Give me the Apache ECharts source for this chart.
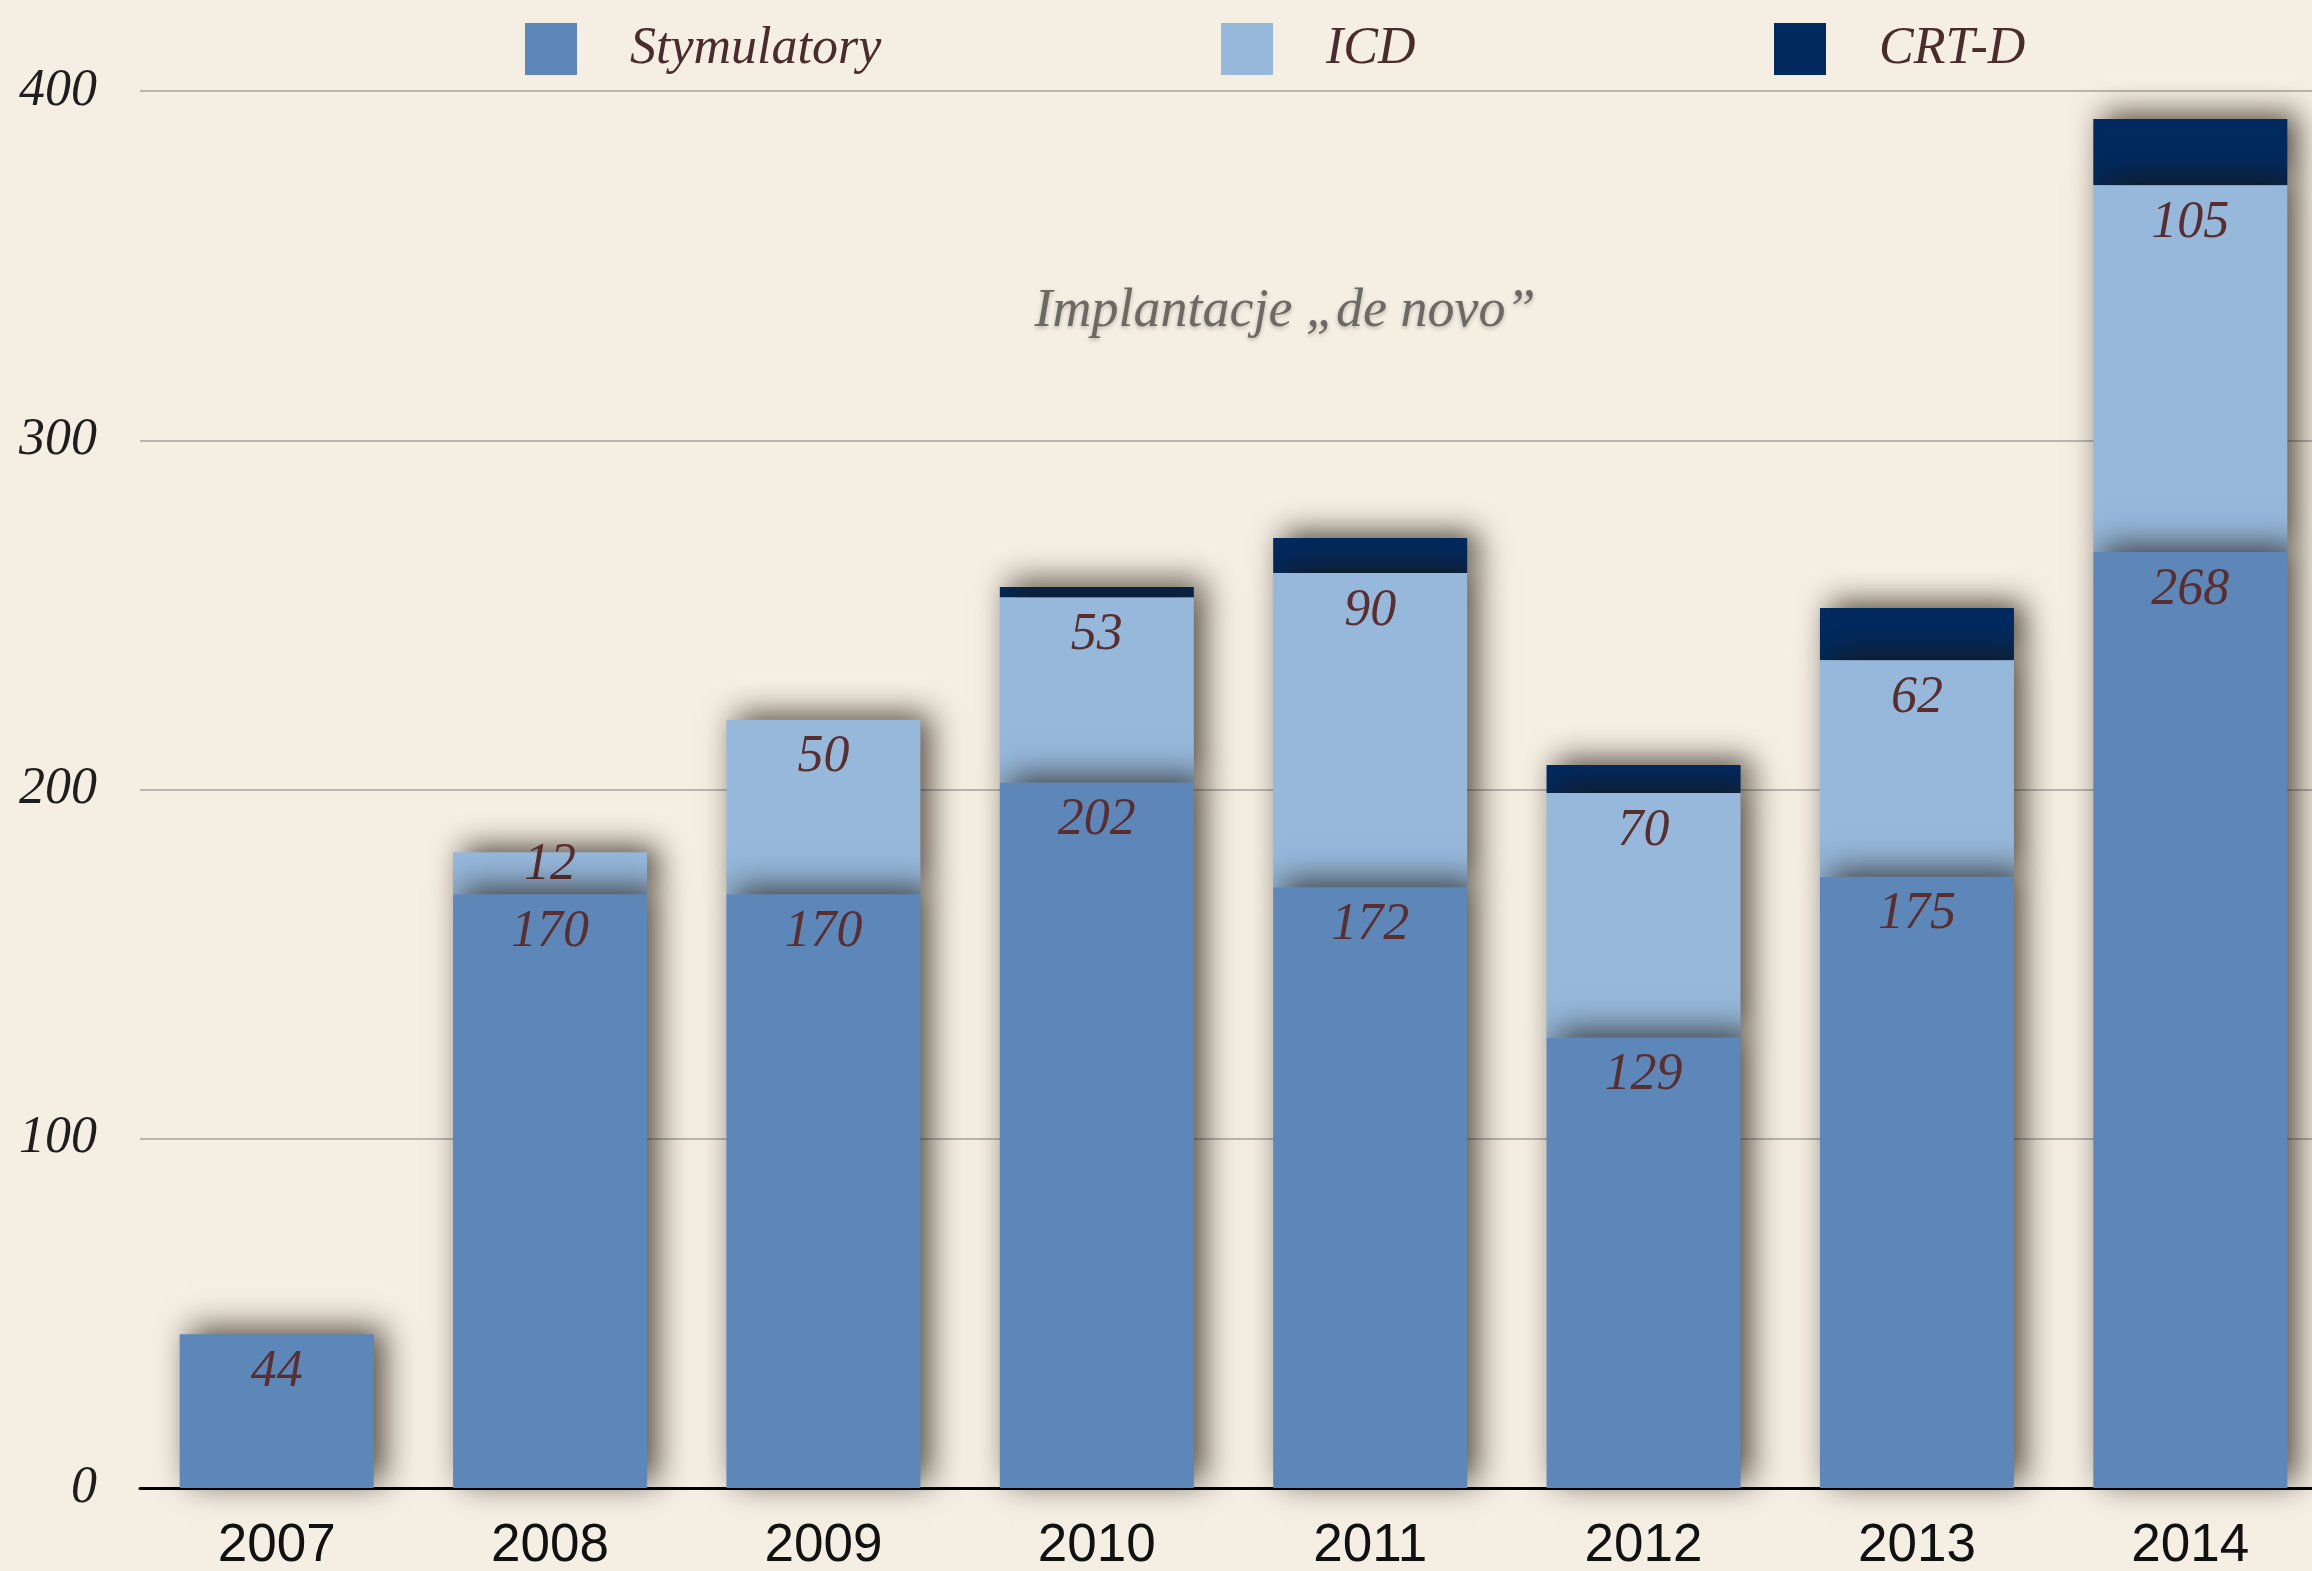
<!DOCTYPE html>
<html>
<head>
<meta charset="utf-8">
<script src="https://cdn.jsdelivr.net/npm/echarts@6/dist/echarts.min.js"></script>
<style>
  html, body { margin: 0; padding: 0; background: #f5eee2; }
  #chart { width: 2312px; height: 1571px; }
</style>
</head>
<body>
<div id="chart"></div>
<script>
// dane z wykresu
const years = ["2007", "2008", "2009", "2010", "2011", "2012", "2013", "2014"];
const stymulatory = [44, 170, 170, 202, 172, 129, 175, 268];
const icd = [null, 12, 50, 53, 90, 70, 62, 105];
const crtd = [null, null, null, 3, 10, 8, 15, 19];
const yTicks = [0, 100, 200, 300, 400];
const seriesNames = ["Stymulatory", "ICD", "CRT-D"];

const serif = "'Liberation Serif', 'DejaVu Serif', serif";
const labelColor = "#5a2e2e";

const shadow = {
  shadowBlur: 30,
  shadowColor: "rgba(30,20,10,0.75)",
  shadowOffsetX: 10,
  shadowOffsetY: -6,
};

function valueLabel() {
  return {
    show: true,
    position: "insideTop",
    distance: 12,
    fontFamily: serif,
    fontStyle: "italic",
    fontSize: 52,
    color: labelColor,
  };
}

// mały segment -> etykieta wysunięta na górną krawędź
function withLabels(arr) {
  return arr.map(function (v) {
    if (v != null && v < 20) {
      return { value: v, label: { distance: -13 } };
    }
    return v;
  });
}

// każda pozycja legendy osobno, żeby trafić w układ oryginału
const legendLeft = [520, 1216, 1769];
const legends = seriesNames.map(function (name, i) {
  return {
    left: legendLeft[i],
    top: 18,
    icon: "rect",
    itemWidth: 52,
    itemHeight: 52,
    data: [name],
    textStyle: {
      fontFamily: serif,
      fontStyle: "italic",
      fontSize: 52,
      color: "#4b2c2c",
      padding: [0, 0, 0, 48],
    },
  };
});

const myChart = echarts.init(document.getElementById("chart"));

const options = {
  backgroundColor: "#f5eee2",
  animation: false,
  title: {
    text: "Implantacje \u201Ede novo\u201D",
    left: 1280,
    top: 280,
    textAlign: "center",
    textStyle: {
      fontFamily: serif,
      fontStyle: "italic",
      fontWeight: "normal",
      fontSize: 54,
      color: "#6c6863",
      textShadowColor: "rgba(0,0,0,0.25)",
      textShadowBlur: 4,
      textShadowOffsetY: 2,
    },
  },
  legend: legends,
  grid: {
    left: 140,
    width: 2187,
    top: 91,
    bottom: 83,
    outerBoundsMode: "none",
    containLabel: false,
  },
  xAxis: {
    type: "category",
    data: years,
    axisLine: { lineStyle: { color: "#000", width: 3 } },
    axisTick: { show: false },
    axisLabel: {
      margin: 32,
      fontFamily: "'Liberation Sans', Arial, sans-serif",
      fontSize: 53,
      color: "#111",
    },
  },
  yAxis: {
    type: "value",
    min: yTicks[0],
    max: yTicks[yTicks.length - 1],
    interval: 100,
    axisLine: { show: false },
    axisTick: { show: false },
    splitLine: { lineStyle: { color: "#b9b6b0", width: 2 } },
    axisLabel: {
      margin: 43,
      fontFamily: serif,
      fontStyle: "italic",
      fontSize: 52,
      color: "#1e1e1e",
    },
  },
  series: [
    {
      name: seriesNames[0],
      type: "bar",
      stack: "razem",
      z: 4,
      barWidth: 194,
      itemStyle: Object.assign({ color: "#5d86b9" }, shadow),
      label: valueLabel(),
      data: withLabels(stymulatory),
    },
    {
      name: seriesNames[1],
      type: "bar",
      stack: "razem",
      z: 3,
      barWidth: 194,
      itemStyle: Object.assign({ color: "#95b8db" }, shadow),
      label: valueLabel(),
      data: withLabels(icd),
    },
    {
      name: seriesNames[2],
      type: "bar",
      stack: "razem",
      z: 2,
      barWidth: 194,
      itemStyle: Object.assign({ color: "#002a60" }, shadow),
      data: crtd,
    },
  ],
};

myChart.setOption(options);
window.onresize = function () {
  myChart.resize();
};
</script>
</body>
</html>
